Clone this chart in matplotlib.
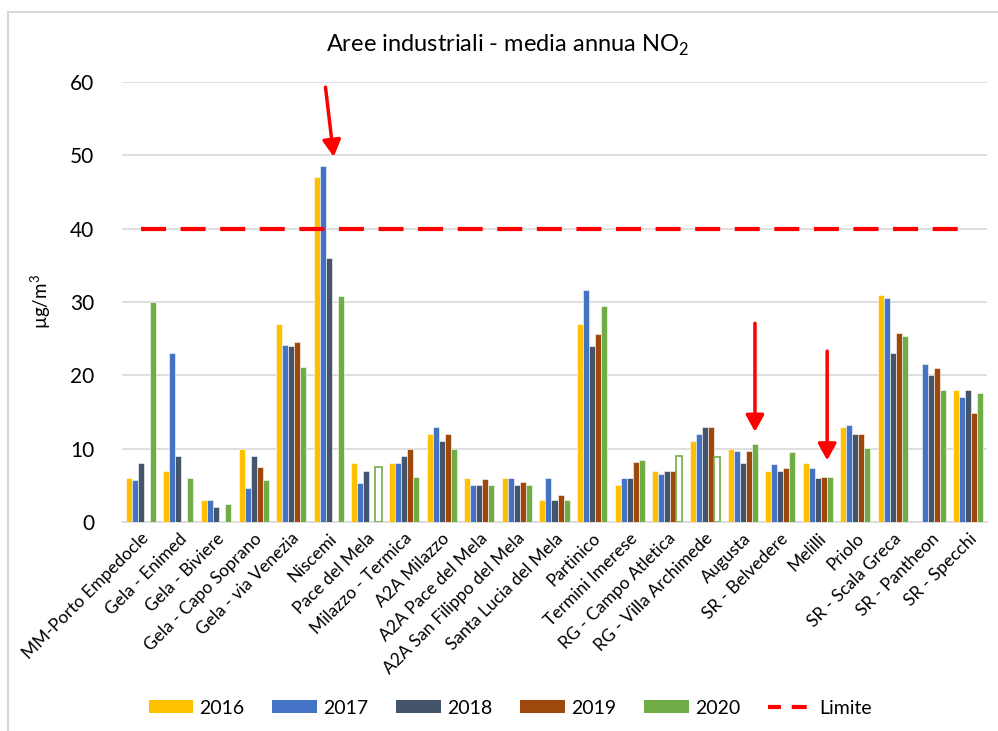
import numpy as np
import matplotlib
matplotlib.use("Agg")
import matplotlib.pyplot as plt
from matplotlib.patches import Rectangle
from matplotlib.lines import Line2D

plt.rcParams['font.family'] = ['Lato', 'DejaVu Sans']
plt.rcParams['mathtext.fontset'] = 'custom'
plt.rcParams['mathtext.rm'] = 'Lato'

stations = ["MM-Porto Empedocle", "Gela - Enimed", "Gela - Biviere", "Gela - Capo Soprano",
            "Gela - via Venezia", "Niscemi", "Pace del Mela", "Milazzo - Termica",
            "A2A Milazzo", "A2A Pace del Mela", "A2A San Filippo del Mela",
            "Santa Lucia del Mela", "Partinico", "Termini Imerese", "RG - Campo Atletica",
            "RG - Villa Archimede", "Augusta", "SR - Belvedere", "Melilli", "Priolo",
            "SR - Scala Greca", "SR - Pantheon", "SR - Specchi"]
nan = np.nan
v2016 = [6, 7, 3, 10, 27, 47, 8, 8, 12, 6, 6, 3, 27, 5, 7, 11, 10, 7, 8, 13, 31, nan, 18]
v2017 = [5.7, 23.1, 3, 4.6, 24.2, 48.6, 5.3, 8.1, 13, 5, 6, 6, 31.6, 6, 6.6, 12, 9.7, 7.9, 7.3, 13.2, 30.6, 21.6, 17]
v2018 = [8, 9, 2, 9, 24, 36, 7, 9, 11, 5, 5, 3, 24, 6, 7, 13, 8, 7, 6, 12, 23, 20, 18]
v2019 = [nan, nan, nan, 7.5, 24.5, nan, nan, 10, 12, 5.8, 5.5, 3.7, 25.7, 8.2, 7, 13, 9.7, 7.4, 6.2, 12, 25.8, 21, 14.9]
v2020 = [30, 6, 2.4, 5.7, 21.2, 30.8, 7.5, 6.1, 10, 5, 5.1, 3, 29.5, 8.5, 9, 8.9, 10.6, 9.6, 6.2, 10.1, 25.3, 18, 17.6]
hollow2020 = ["Pace del Mela", "RG - Campo Atletica", "RG - Villa Archimede"]
years = ["2016", "2017", "2018", "2019", "2020"]
limit_value = 40

colors = ["#FFC000", "#4472C4", "#44546A", "#9E480E", "#70AD47"]
series = [v2016, v2017, v2018, v2019, v2020]

fig = plt.figure(figsize=(9.98, 7.31), dpi=100)
ax = fig.add_axes([122/998, 1-522/731, (987-122)/998, (522-82)/731])

x = np.arange(len(stations))
w = 0.16
handles = []
for i, (vals, c, yr) in enumerate(zip(series, colors, years)):
    offs = (i - 2) * w
    vals = np.array(vals, dtype=float)
    if yr == "2020":
        fc = [("white" if s in hollow2020 else c) for s in stations]
        ec = [(c if s in hollow2020 else "white") for s in stations]
        lw = [1.2 if s in hollow2020 else 0.4 for s in stations]
        ax.bar(x + offs, vals, w, color=fc, edgecolor=ec, linewidth=lw, zorder=3)
    else:
        ax.bar(x + offs, vals, w, color=c, edgecolor="white", linewidth=0.4, zorder=3)
    handles.append(Rectangle((0, 0), 1, 1, facecolor=c, edgecolor="none", label=yr))

ax.plot(x, [limit_value] * len(x), color="#FF0000", lw=3, ls=(0, (6, 3.5)), zorder=4)
handles.append(Line2D([], [], color="#FF0000", lw=3, ls=(0.5, (3.6, 2.6)), label="Limite"))

# arrows
arrowkw = dict(arrowstyle="-|>,head_length=1.0,head_width=0.55", color="#FF0000", lw=2.5,
               shrinkA=0, shrinkB=0)
ax.annotate("", xy=(5.13, 49.8), xytext=(4.91, 59.3), arrowprops=arrowkw, zorder=5, annotation_clip=False)
ax.annotate("", xy=(16.33, 12.3), xytext=(16.33, 27.1), arrowprops=arrowkw, zorder=5)
ax.annotate("", xy=(18.25, 8.4), xytext=(18.25, 23.3), arrowprops=arrowkw, zorder=5)

ax.set_xlim(-0.5, len(stations) - 0.5)
ax.set_ylim(0, 60)
ax.set_yticks(np.arange(0, 61, 10))
ax.yaxis.grid(True, color="#D9D9D9", lw=1.2, zorder=0)
ax.set_axisbelow(True)
for s in ["top", "right", "left"]:
    ax.spines[s].set_visible(False)
ax.spines["bottom"].set_color("#D9D9D9")
ax.spines["bottom"].set_linewidth(1.2)
ax.tick_params(axis="both", length=0, colors="#000000")
ax.tick_params(axis="y", labelsize=15, pad=20)
ax.set_xticks(x)
ax.set_xticklabels(stations, rotation=45, ha="right", rotation_mode="anchor", fontsize=12.5)
ax.tick_params(axis="x", pad=6)
ax.set_ylabel("µg/m$^3$", fontsize=13.5, labelpad=12)

fig.text((325+690)/2/998, 1-45/731, "Aree industriali - media annua NO$_2$", ha="center", va="center", fontsize=17)

leg = fig.legend(handles=handles, loc="center", bbox_to_anchor=(510/998, 1-708/731), ncol=6, frameon=False,
                 fontsize=14, handlelength=2.3, handleheight=0.65, columnspacing=1.45, handletextpad=0.3)

fig.patches.append(Rectangle((8/998, -0.1), 1.2, 1 - 12/731 + 0.1, transform=fig.transFigure,
                             fill=False, edgecolor="#D9D9D9", lw=1.5, zorder=0))

fig.savefig("out.png", dpi=100)
